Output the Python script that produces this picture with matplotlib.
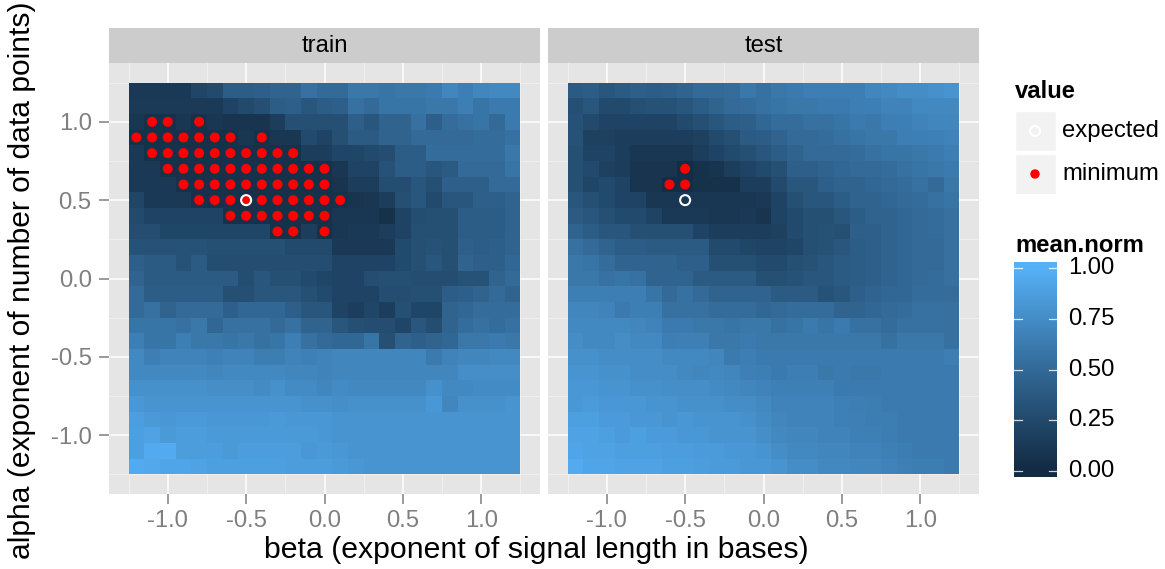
import numpy as np
import matplotlib
matplotlib.use("Agg")
import matplotlib.pyplot as plt
from matplotlib.colors import ListedColormap, Normalize

plt.rcParams['font.family'] = ['Liberation Sans', 'DejaVu Sans']
plt.rcParams['axes.unicode_minus'] = False

# ---------------------------------------------------------------- data
beta = [-1.2, -1.1, -1.0, -0.9, -0.8, -0.7, -0.6, -0.5, -0.4, -0.3, -0.2, -0.1, 0.0,
        0.1, 0.2, 0.3, 0.4, 0.5, 0.6, 0.7, 0.8, 0.9, 1.0, 1.1, 1.2]
alpha = [1.2, 1.1, 1.0, 0.9, 0.8, 0.7, 0.6, 0.5, 0.4, 0.3, 0.2, 0.1, 0.0,
         -0.1, -0.2, -0.3, -0.4, -0.5, -0.6, -0.7, -0.8, -0.9, -1.0, -1.1, -1.2]

# mean.norm, one row per alpha (top to bottom), one column per beta
train_mean_norm = [
    [0.12, 0.12, 0.12, 0.12, 0.22, 0.25, 0.40, 0.40, 0.42, 0.45, 0.45, 0.55, 0.50, 0.50, 0.60, 0.60, 0.58, 0.60, 0.60, 0.62, 0.70, 0.65, 0.70, 0.72, 0.72],
    [0.13, 0.13, 0.13, 0.13, 0.13, 0.13, 0.20, 0.25, 0.30, 0.40, 0.42, 0.35, 0.40, 0.42, 0.55, 0.50, 0.58, 0.58, 0.58, 0.60, 0.60, 0.65, 0.58, 0.62, 0.62],
    [0.10, 0.05, 0.05, 0.10, 0.05, 0.10, 0.08, 0.08, 0.08, 0.15, 0.30, 0.30, 0.30, 0.30, 0.42, 0.35, 0.45, 0.45, 0.55, 0.42, 0.52, 0.55, 0.58, 0.50, 0.62],
    [0.05, 0.05, 0.05, 0.05, 0.05, 0.05, 0.05, 0.10, 0.05, 0.10, 0.10, 0.25, 0.20, 0.30, 0.38, 0.38, 0.45, 0.45, 0.50, 0.50, 0.50, 0.50, 0.52, 0.52, 0.55],
    [0.12, 0.05, 0.05, 0.05, 0.05, 0.05, 0.05, 0.05, 0.05, 0.05, 0.05, 0.15, 0.15, 0.22, 0.22, 0.25, 0.28, 0.40, 0.40, 0.52, 0.52, 0.52, 0.52, 0.52, 0.60],
    [0.12, 0.12, 0.05, 0.05, 0.05, 0.05, 0.05, 0.05, 0.05, 0.05, 0.05, 0.05, 0.05, 0.10, 0.20, 0.20, 0.32, 0.40, 0.40, 0.35, 0.38, 0.50, 0.50, 0.50, 0.58],
    [0.12, 0.12, 0.12, 0.05, 0.05, 0.05, 0.05, 0.05, 0.05, 0.05, 0.05, 0.05, 0.05, 0.08, 0.15, 0.15, 0.28, 0.28, 0.35, 0.30, 0.42, 0.42, 0.42, 0.50, 0.50],
    [0.22, 0.12, 0.12, 0.12, 0.05, 0.05, 0.05, 0.05, 0.05, 0.05, 0.05, 0.05, 0.05, 0.05, 0.08, 0.10, 0.15, 0.30, 0.35, 0.25, 0.35, 0.35, 0.42, 0.42, 0.45],
    [0.25, 0.20, 0.20, 0.20, 0.20, 0.20, 0.05, 0.05, 0.05, 0.05, 0.05, 0.05, 0.05, 0.10, 0.10, 0.10, 0.05, 0.20, 0.28, 0.30, 0.30, 0.40, 0.40, 0.40, 0.45],
    [0.28, 0.28, 0.22, 0.22, 0.22, 0.22, 0.22, 0.22, 0.22, 0.05, 0.05, 0.15, 0.05, 0.10, 0.12, 0.12, 0.15, 0.20, 0.30, 0.30, 0.30, 0.40, 0.40, 0.40, 0.45],
    [0.32, 0.32, 0.32, 0.32, 0.32, 0.30, 0.30, 0.30, 0.30, 0.30, 0.25, 0.25, 0.25, 0.12, 0.12, 0.12, 0.12, 0.25, 0.30, 0.32, 0.30, 0.42, 0.40, 0.42, 0.45],
    [0.42, 0.38, 0.38, 0.32, 0.38, 0.28, 0.28, 0.28, 0.28, 0.28, 0.28, 0.28, 0.28, 0.20, 0.20, 0.20, 0.20, 0.25, 0.30, 0.35, 0.30, 0.45, 0.42, 0.42, 0.48],
    [0.45, 0.38, 0.38, 0.38, 0.38, 0.38, 0.38, 0.28, 0.35, 0.30, 0.30, 0.25, 0.22, 0.20, 0.20, 0.28, 0.30, 0.30, 0.28, 0.28, 0.28, 0.32, 0.32, 0.45, 0.50],
    [0.50, 0.40, 0.40, 0.40, 0.40, 0.40, 0.30, 0.30, 0.35, 0.35, 0.35, 0.30, 0.25, 0.20, 0.20, 0.20, 0.28, 0.28, 0.30, 0.30, 0.40, 0.42, 0.45, 0.50, 0.45],
    [0.50, 0.55, 0.45, 0.50, 0.50, 0.50, 0.42, 0.48, 0.48, 0.48, 0.42, 0.35, 0.35, 0.20, 0.15, 0.22, 0.15, 0.30, 0.22, 0.22, 0.45, 0.48, 0.52, 0.52, 0.52],
    [0.58, 0.58, 0.58, 0.55, 0.60, 0.48, 0.55, 0.55, 0.55, 0.50, 0.55, 0.45, 0.45, 0.35, 0.30, 0.28, 0.28, 0.22, 0.35, 0.28, 0.45, 0.52, 0.55, 0.52, 0.55],
    [0.65, 0.58, 0.58, 0.65, 0.60, 0.60, 0.58, 0.60, 0.55, 0.58, 0.65, 0.55, 0.50, 0.48, 0.48, 0.58, 0.30, 0.45, 0.42, 0.45, 0.48, 0.60, 0.60, 0.62, 0.60],
    [0.72, 0.65, 0.68, 0.68, 0.68, 0.66, 0.68, 0.68, 0.64, 0.64, 0.68, 0.66, 0.68, 0.70, 0.70, 0.70, 0.70, 0.70, 0.70, 0.62, 0.68, 0.70, 0.70, 0.72, 0.72],
    [0.72, 0.72, 0.72, 0.72, 0.72, 0.70, 0.72, 0.72, 0.72, 0.72, 0.70, 0.70, 0.68, 0.70, 0.70, 0.70, 0.70, 0.70, 0.70, 0.70, 0.70, 0.76, 0.76, 0.76, 0.76],
    [0.78, 0.78, 0.78, 0.78, 0.78, 0.76, 0.76, 0.76, 0.74, 0.78, 0.74, 0.74, 0.70, 0.74, 0.72, 0.72, 0.72, 0.72, 0.72, 0.78, 0.72, 0.72, 0.74, 0.74, 0.74],
    [0.82, 0.80, 0.80, 0.80, 0.80, 0.80, 0.80, 0.80, 0.80, 0.80, 0.80, 0.78, 0.78, 0.76, 0.78, 0.78, 0.78, 0.78, 0.78, 0.82, 0.70, 0.78, 0.78, 0.78, 0.80],
    [0.87, 0.84, 0.82, 0.84, 0.84, 0.82, 0.82, 0.82, 0.82, 0.84, 0.82, 0.82, 0.82, 0.80, 0.80, 0.80, 0.80, 0.80, 0.80, 0.80, 0.80, 0.80, 0.80, 0.80, 0.80],
    [0.88, 0.90, 0.84, 0.86, 0.86, 0.84, 0.84, 0.84, 0.84, 0.84, 0.84, 0.84, 0.82, 0.80, 0.80, 0.80, 0.80, 0.80, 0.80, 0.80, 0.80, 0.80, 0.80, 0.80, 0.80],
    [0.88, 0.95, 0.95, 0.86, 0.86, 0.86, 0.84, 0.86, 0.86, 0.86, 0.86, 0.82, 0.84, 0.82, 0.80, 0.80, 0.80, 0.80, 0.80, 0.80, 0.80, 0.80, 0.80, 0.80, 0.80],
    [0.95, 0.94, 0.92, 0.92, 0.90, 0.88, 0.88, 0.88, 0.88, 0.88, 0.86, 0.86, 0.86, 0.84, 0.82, 0.80, 0.80, 0.80, 0.80, 0.80, 0.80, 0.80, 0.80, 0.80, 0.80],
]

test_mean_norm = [
    [0.38, 0.40, 0.35, 0.38, 0.42, 0.40, 0.42, 0.45, 0.50, 0.50, 0.52, 0.60, 0.55, 0.60, 0.62, 0.65, 0.65, 0.65, 0.65, 0.70, 0.72, 0.75, 0.75, 0.78, 0.80],
    [0.30, 0.35, 0.25, 0.25, 0.30, 0.32, 0.32, 0.35, 0.40, 0.45, 0.50, 0.52, 0.55, 0.58, 0.60, 0.60, 0.62, 0.62, 0.65, 0.65, 0.68, 0.68, 0.72, 0.72, 0.72],
    [0.32, 0.25, 0.20, 0.20, 0.20, 0.20, 0.20, 0.25, 0.30, 0.35, 0.40, 0.42, 0.48, 0.52, 0.52, 0.55, 0.55, 0.58, 0.62, 0.60, 0.65, 0.65, 0.68, 0.70, 0.70],
    [0.32, 0.18, 0.18, 0.15, 0.15, 0.15, 0.15, 0.15, 0.18, 0.25, 0.30, 0.38, 0.40, 0.45, 0.50, 0.50, 0.52, 0.55, 0.58, 0.60, 0.60, 0.65, 0.65, 0.66, 0.68],
    [0.30, 0.20, 0.20, 0.15, 0.10, 0.10, 0.10, 0.10, 0.15, 0.20, 0.25, 0.30, 0.35, 0.40, 0.45, 0.50, 0.50, 0.50, 0.52, 0.55, 0.58, 0.58, 0.60, 0.62, 0.65],
    [0.30, 0.25, 0.18, 0.15, 0.08, 0.08, 0.08, 0.02, 0.05, 0.08, 0.15, 0.20, 0.25, 0.30, 0.42, 0.42, 0.45, 0.48, 0.50, 0.50, 0.52, 0.55, 0.58, 0.60, 0.62],
    [0.30, 0.22, 0.25, 0.20, 0.08, 0.08, 0.02, 0.02, 0.05, 0.05, 0.05, 0.15, 0.15, 0.25, 0.35, 0.35, 0.42, 0.45, 0.45, 0.48, 0.50, 0.52, 0.55, 0.50, 0.60],
    [0.35, 0.30, 0.25, 0.20, 0.20, 0.10, 0.10, 0.10, 0.10, 0.10, 0.10, 0.10, 0.12, 0.20, 0.30, 0.35, 0.35, 0.40, 0.45, 0.45, 0.48, 0.50, 0.52, 0.55, 0.58],
    [0.38, 0.35, 0.30, 0.25, 0.25, 0.20, 0.12, 0.12, 0.12, 0.10, 0.10, 0.12, 0.08, 0.20, 0.25, 0.30, 0.30, 0.35, 0.40, 0.45, 0.45, 0.48, 0.50, 0.52, 0.55],
    [0.45, 0.40, 0.35, 0.35, 0.30, 0.30, 0.30, 0.30, 0.20, 0.15, 0.15, 0.15, 0.15, 0.18, 0.25, 0.30, 0.32, 0.30, 0.42, 0.42, 0.45, 0.48, 0.50, 0.52, 0.55],
    [0.55, 0.50, 0.45, 0.40, 0.40, 0.38, 0.38, 0.38, 0.38, 0.25, 0.25, 0.22, 0.20, 0.20, 0.22, 0.30, 0.32, 0.35, 0.40, 0.42, 0.45, 0.48, 0.50, 0.50, 0.55],
    [0.60, 0.58, 0.52, 0.45, 0.45, 0.45, 0.45, 0.42, 0.42, 0.30, 0.30, 0.30, 0.25, 0.25, 0.30, 0.32, 0.35, 0.38, 0.40, 0.42, 0.45, 0.48, 0.50, 0.50, 0.55],
    [0.60, 0.60, 0.55, 0.58, 0.55, 0.45, 0.45, 0.45, 0.38, 0.38, 0.38, 0.38, 0.30, 0.30, 0.32, 0.35, 0.35, 0.38, 0.40, 0.42, 0.45, 0.48, 0.50, 0.52, 0.55],
    [0.65, 0.65, 0.65, 0.65, 0.65, 0.58, 0.50, 0.55, 0.50, 0.45, 0.45, 0.45, 0.45, 0.38, 0.38, 0.38, 0.32, 0.35, 0.42, 0.45, 0.48, 0.48, 0.52, 0.52, 0.52],
    [0.70, 0.70, 0.68, 0.62, 0.65, 0.65, 0.55, 0.55, 0.55, 0.52, 0.52, 0.52, 0.48, 0.50, 0.52, 0.52, 0.52, 0.45, 0.45, 0.48, 0.50, 0.52, 0.55, 0.55, 0.55],
    [0.72, 0.72, 0.72, 0.72, 0.70, 0.68, 0.62, 0.62, 0.60, 0.60, 0.58, 0.60, 0.60, 0.55, 0.58, 0.62, 0.58, 0.62, 0.55, 0.55, 0.52, 0.55, 0.55, 0.55, 0.55],
    [0.75, 0.72, 0.72, 0.75, 0.72, 0.72, 0.65, 0.66, 0.66, 0.60, 0.60, 0.62, 0.60, 0.60, 0.60, 0.60, 0.60, 0.60, 0.60, 0.60, 0.55, 0.60, 0.60, 0.60, 0.55],
    [0.78, 0.78, 0.75, 0.75, 0.75, 0.75, 0.72, 0.72, 0.72, 0.70, 0.62, 0.65, 0.62, 0.62, 0.62, 0.62, 0.62, 0.62, 0.62, 0.62, 0.62, 0.62, 0.62, 0.62, 0.65],
    [0.80, 0.80, 0.78, 0.78, 0.75, 0.75, 0.75, 0.72, 0.70, 0.72, 0.70, 0.66, 0.65, 0.62, 0.65, 0.65, 0.60, 0.62, 0.60, 0.60, 0.62, 0.62, 0.62, 0.62, 0.62],
    [0.82, 0.82, 0.80, 0.80, 0.78, 0.78, 0.76, 0.76, 0.76, 0.74, 0.72, 0.70, 0.68, 0.66, 0.66, 0.66, 0.66, 0.62, 0.62, 0.62, 0.62, 0.62, 0.62, 0.62, 0.62],
    [0.82, 0.85, 0.82, 0.82, 0.82, 0.80, 0.80, 0.78, 0.78, 0.78, 0.75, 0.75, 0.72, 0.68, 0.68, 0.68, 0.68, 0.66, 0.65, 0.64, 0.62, 0.62, 0.62, 0.62, 0.62],
    [0.88, 0.88, 0.85, 0.85, 0.82, 0.82, 0.80, 0.82, 0.80, 0.80, 0.80, 0.78, 0.74, 0.70, 0.68, 0.68, 0.68, 0.66, 0.66, 0.64, 0.64, 0.62, 0.62, 0.62, 0.62],
    [0.90, 0.90, 0.88, 0.85, 0.88, 0.85, 0.85, 0.82, 0.82, 0.80, 0.80, 0.80, 0.76, 0.72, 0.70, 0.70, 0.68, 0.68, 0.66, 0.66, 0.64, 0.62, 0.62, 0.62, 0.62],
    [0.92, 0.90, 0.90, 0.88, 0.88, 0.88, 0.86, 0.86, 0.85, 0.85, 0.82, 0.82, 0.80, 0.75, 0.72, 0.72, 0.70, 0.70, 0.68, 0.68, 0.66, 0.64, 0.62, 0.62, 0.62],
    [0.95, 0.92, 0.92, 0.90, 0.90, 0.90, 0.88, 0.88, 0.86, 0.85, 0.85, 0.82, 0.82, 0.80, 0.75, 0.75, 0.72, 0.72, 0.70, 0.70, 0.68, 0.66, 0.64, 0.64, 0.62],
]

# parameter pairs reaching the minimum error
train_min_beta = [-1.1, -1.0, -0.8,
                  -1.2, -1.1, -1.0, -0.9, -0.8, -0.7, -0.6, -0.4,
                  -1.1, -1.0, -0.9, -0.8, -0.7, -0.6, -0.5, -0.4, -0.3, -0.2,
                  -1.0, -0.9, -0.8, -0.7, -0.6, -0.5, -0.4, -0.3, -0.2, -0.1, 0.0,
                  -0.9, -0.8, -0.7, -0.6, -0.5, -0.4, -0.3, -0.2, -0.1, 0.0,
                  -0.8, -0.7, -0.6, -0.5, -0.4, -0.3, -0.2, -0.1, 0.0, 0.1,
                  -0.6, -0.5, -0.4, -0.3, -0.2, -0.1, 0.0,
                  -0.3, -0.2, 0.0]
train_min_alpha = [1.0] * 3 + [0.9] * 8 + [0.8] * 10 + [0.7] * 11 + [0.6] * 10 + \
                  [0.5] * 10 + [0.4] * 7 + [0.3] * 3
test_min_beta = [-0.5, -0.6, -0.5]
test_min_alpha = [0.7, 0.6, 0.6]

# theoretically expected optimum
expected_beta = [-0.5]
expected_alpha = [0.5]

# ---------------------------------------------------------------- colours
def _lin(c):
    return np.where(c <= 0.04045, c / 12.92, ((c + 0.055) / 1.055) ** 2.4)


def _gam(c):
    c = np.clip(c, 0, 1)
    return np.where(c <= 0.0031308, 12.92 * c, 1.055 * c ** (1 / 2.4) - 0.055)


_M = np.array([[0.4124564, 0.3575761, 0.1804375],
               [0.2126729, 0.7151522, 0.0721750],
               [0.0193339, 0.1191920, 0.9503041]])
_WHITE = np.array([0.95047, 1.0, 1.08883])
_D = 6 / 29


def hex_to_lab(h):
    rgb = np.array([int(h[i:i + 2], 16) for i in (1, 3, 5)]) / 255
    xyz = _M @ _lin(rgb) / _WHITE
    f = np.where(xyz > _D ** 3, np.cbrt(xyz), xyz / (3 * _D ** 2) + 4 / 29)
    return np.array([116 * f[1] - 16, 500 * (f[0] - f[1]), 200 * (f[1] - f[2])])


def lab_to_rgb(lab):
    fy = (lab[0] + 16) / 116
    f = np.array([fy + lab[1] / 500, fy, fy - lab[2] / 200])
    xyz = np.where(f > _D, f ** 3, 3 * _D ** 2 * (f - 4 / 29)) * _WHITE
    return _gam(np.linalg.solve(_M, xyz))


low, high = hex_to_lab("#132B43"), hex_to_lab("#56B1F7")
cmap = ListedColormap([lab_to_rgb(low + t * (high - low)) for t in np.linspace(0, 1, 256)])
norm = Normalize(0, 1)

# ---------------------------------------------------------------- layout
W, H = 1165, 569
fig = plt.figure(figsize=(W / 100, H / 100), dpi=100)
fig.patch.set_facecolor("white")


def px_axes(x0, y0, x1, y1, **kw):
    return fig.add_axes([x0 / W, 1 - y1 / H, (x1 - x0) / W, (y1 - y0) / H], **kw)


beta_arr = np.array(beta)
alpha_arr = np.array(alpha)[::-1]
x_edges = np.append(beta_arr - 0.05, beta_arr[-1] + 0.05)
y_edges = np.append(alpha_arr - 0.05, alpha_arr[-1] + 0.05)
lim = (x_edges[0] - 0.125, x_edges[-1] + 0.125)

tick_grey = "#7F7F7F"
panels = [("train", train_mean_norm, train_min_beta, train_min_alpha, 109),
          ("test", test_mean_norm, test_min_beta, test_min_alpha, 548)]

for i, (name, grid, mb, ma, x0) in enumerate(panels):
    ax = px_axes(x0, 63, x0 + 431, 494)
    ax.set_facecolor("#E5E5E5")
    for s in ax.spines.values():
        s.set_visible(False)
    ax.set_xlim(*lim)
    ax.set_ylim(*lim)
    major = [-1.0, -0.5, 0.0, 0.5, 1.0]
    minor = [-1.25, -0.75, -0.25, 0.25, 0.75, 1.25]
    for v in minor:
        ax.axvline(v, color="#F2F2F2", lw=0.6, zorder=0)
        ax.axhline(v, color="#F2F2F2", lw=0.6, zorder=0)
    for v in major:
        ax.axvline(v, color="white", lw=1.1, zorder=0)
        ax.axhline(v, color="white", lw=1.1, zorder=0)

    ax.pcolormesh(x_edges, y_edges, np.array(grid)[::-1], cmap=cmap, norm=norm,
                  shading="flat", zorder=1, edgecolors="none", antialiased=False)
    ax.scatter(mb, ma, s=52, color="#FF0000", edgecolors="none", zorder=3)
    ax.scatter(expected_beta, expected_alpha, s=52, facecolors="none",
               edgecolors="white", linewidths=1.5, zorder=4)

    ax.set_xticks(major)
    ax.set_xticklabels(["%.1f" % v for v in major])
    ax.tick_params(axis="x", length=7.5, width=1.1, color=tick_grey,
                   labelcolor=tick_grey, labelsize=17.2, pad=4)
    if i == 0:
        ax.set_yticks(major)
        ax.set_yticklabels(["%.1f" % v for v in major])
        ax.tick_params(axis="y", length=7.5, width=1.1, color=tick_grey,
                       labelcolor=tick_grey, labelsize=17.2, pad=5)
    else:
        ax.set_yticks([])

    strip = px_axes(x0, 28, x0 + 431, 63)
    strip.set_facecolor("#CCCCCC")
    strip.set_xticks([])
    strip.set_yticks([])
    for s in strip.spines.values():
        s.set_visible(False)
    strip.text(0.5, 0.5, name, ha="center", va="center", fontsize=17.2,
               color="black", transform=strip.transAxes)

# axis titles
fig.text(536 / W, 1 - 550 / H, "beta (exponent of signal length in bases)",
         ha="center", va="center", fontsize=21.8)
fig.text(22 / W, 1 - 280 / H, "alpha (exponent of number of data points)",
         ha="center", va="center", fontsize=21.6, rotation=90)

# ---------------------------------------------------------------- legends
ov = px_axes(0, 0, W, H)
ov.set_xlim(0, W)
ov.set_ylim(H, 0)
ov.axis("off")
ov.patch.set_alpha(0)

ov.text(1015, 91, "value", fontsize=17.2, fontweight="bold", ha="left", va="center")
for yc in (131, 174):
    ov.add_patch(plt.Rectangle((1015, yc - 20), 41, 40, facecolor="#F2F2F2",
                               edgecolor="white", lw=1))
ov.scatter([1035], [131], s=52, facecolors="none", edgecolors="white", linewidths=1.5)
ov.scatter([1035], [174], s=46, color="#FF0000", edgecolors="none")
ov.text(1062, 131, "expected", fontsize=17.2, ha="left", va="center")
ov.text(1062, 174, "minimum", fontsize=17.2, ha="left", va="center")
ov.text(1015, 245, "mean.norm", fontsize=17.2, fontweight="bold", ha="left", va="center")

cb = px_axes(1014, 262, 1057, 477)
vmin_bar, vmax_bar = -6 / 203, 1 + 6 / 203
grad = np.linspace(vmin_bar, vmax_bar, 300).reshape(-1, 1)
cb.imshow(grad, cmap=cmap, norm=norm, aspect="auto", origin="lower",
          extent=(0, 1, vmin_bar, vmax_bar), interpolation="bilinear")
cb.set_xlim(0, 1)
cb.set_ylim(vmin_bar, vmax_bar)
cb.axis("off")
cb_ticks = [0.0, 0.25, 0.5, 0.75, 1.0]
for t in cb_ticks:
    cb.plot([0, 0.19], [t, t], color="white", lw=0.9, alpha=0.8)
    cb.plot([0.81, 1], [t, t], color="white", lw=0.9, alpha=0.8)
    ov.text(1068, 471 - t * 203, "%.2f" % t, fontsize=17.2, ha="left", va="center")

fig.savefig("out.png", dpi=100)
